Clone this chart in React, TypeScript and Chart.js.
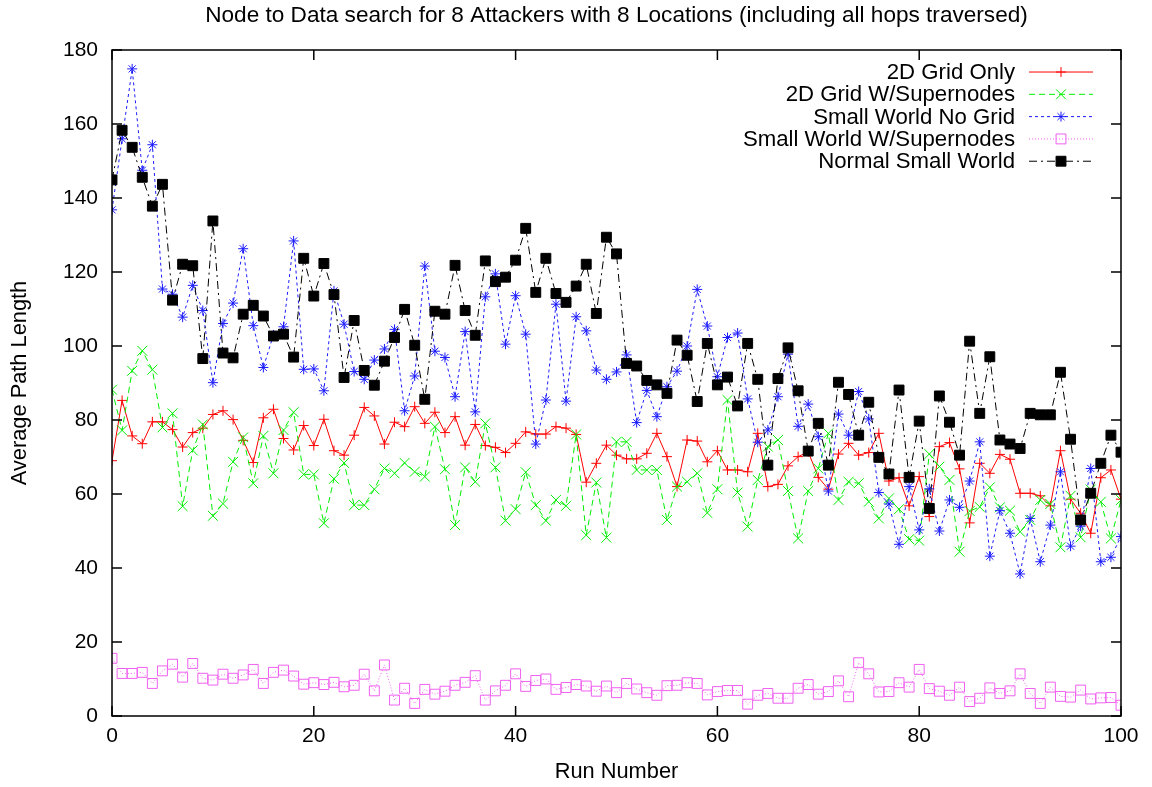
import React, { useEffect, useRef } from "react";
import { Chart, registerables } from "chart.js";

Chart.register(...registerables);

const chartTitle = "Node to Data search for 8 Attackers with 8 Locations (including all hops traversed)";
const xAxisTitle = "Run Number";
const yAxisTitle = "Average Path Length";

const runNumbers: number[] = Array.from({ length: 101 }, (_, i) => i);

const seriesNames = [
  "2D Grid Only",
  "2D Grid W/Supernodes",
  "Small World No Grid",
  "Small World W/Supernodes",
  "Normal Small World",
];

const grid2dOnly = [
  69.0, 85.3, 75.7, 73.6, 79.5, 79.5, 77.4, 72.7, 76.6, 77.8,
  81.5, 82.5, 80.1, 74.5, 68.5, 80.6, 82.9, 75.0, 71.9, 78.5,
  73.1, 80.2, 71.7, 70.5, 75.9, 83.4, 81.1, 73.5, 79.4, 78.2,
  83.6, 79.1, 82.1, 76.6, 80.9, 73.2, 78.8, 73.1, 72.6, 71.2,
  73.7, 76.8, 76.2, 76.2, 78.2, 77.8, 76.1, 63.2, 68.3, 73.2,
  70.5, 69.5, 69.5, 71.0, 76.4, 70.1, 62.0, 74.6, 74.3, 68.7,
  71.7, 66.5, 66.5, 66.0, 76.4, 62.0, 62.6, 67.6, 70.1, 71.4,
  64.5, 61.3, 70.8, 73.7, 70.5, 71.2, 76.4, 63.5, 64.4, 56.8,
  64.7, 53.9, 72.8, 73.9, 66.8, 52.2, 68.3, 65.6, 70.7, 69.4,
  60.2, 60.2, 59.5, 56.8, 71.7, 58.6, 54.8, 49.4, 64.4, 66.5,
  58.6,
];

const grid2dSupernodes = [
  88.2, 77.2, 93.3, 98.7, 93.6, 78.0, 81.8, 56.7, 71.8, 78.8,
  54.1, 57.4, 68.7, 75.3, 62.9, 75.7, 65.6, 77.3, 82.1, 65.3,
  65.3, 52.1, 64.1, 68.4, 57.0, 57.0, 61.3, 66.9, 65.6, 68.4,
  66.0, 64.7, 78.2, 66.7, 51.6, 67.2, 63.3, 79.1, 67.2, 52.8,
  55.9, 65.9, 57.0, 52.8, 58.4, 56.8, 76.1, 48.9, 63.1, 48.2,
  74.1, 74.1, 66.5, 66.5, 66.5, 53.0, 62.0, 63.3, 65.6, 54.9,
  61.3, 85.4, 60.4, 51.2, 63.8, 72.8, 74.6, 60.8, 48.0, 60.8,
  66.9, 76.4, 58.4, 63.3, 62.9, 57.9, 53.4, 58.8, 55.9, 47.8,
  47.4, 70.8, 67.4, 63.8, 44.4, 55.4, 56.5, 61.8, 56.4, 55.5,
  49.8, 53.0, 58.4, 57.3, 45.6, 59.5, 48.3, 61.2, 57.9, 48.0,
  58.4,
];

const smallWorldNoGrid = [
  136.8, 156.0, 174.9, 147.5, 154.4, 115.4, 114.0, 107.8, 116.4, 109.6,
  90.1, 106.1, 111.6, 126.3, 105.5, 94.2, 103.0, 105.2, 128.4, 93.7,
  93.8, 87.9, 114.9, 105.9, 93.1, 91.0, 96.2, 99.2, 104.5, 82.5,
  91.9, 121.6, 98.6, 96.9, 86.3, 103.9, 82.2, 113.3, 119.5, 100.5,
  113.6, 103.2, 73.5, 85.4, 111.3, 85.1, 107.9, 104.1, 93.5, 91.0,
  93.0, 97.6, 79.3, 88.0, 80.9, 89.0, 93.2, 100.0, 115.3, 105.4,
  91.7, 102.3, 103.5, 85.7, 74.0, 77.3, 86.3, 97.8, 78.3, 84.3,
  75.5, 60.8, 81.6, 75.9, 87.7, 80.3, 60.4, 57.3, 46.4, 62.0,
  50.3, 61.4, 50.0, 58.4, 56.4, 63.5, 74.1, 43.2, 55.5, 49.4,
  38.4, 53.4, 41.7, 51.6, 66.0, 45.9, 51.3, 66.9, 41.7, 42.9,
  48.5,
];

const smallWorldSupernodes = [
  15.6, 11.5, 11.5, 11.8, 8.8, 12.2, 14.0, 10.5, 14.2, 10.2,
  9.7, 11.3, 10.2, 11.1, 12.6, 8.8, 11.8, 12.4, 10.8, 8.6,
  9.0, 8.5, 9.1, 7.9, 8.3, 11.3, 6.8, 13.8, 4.3, 7.5,
  3.4, 7.2, 5.9, 6.7, 8.3, 9.1, 10.9, 4.3, 6.8, 8.3,
  11.4, 8.0, 9.6, 10.0, 7.2, 7.7, 8.5, 8.1, 6.7, 8.1,
  6.3, 8.8, 7.3, 6.3, 5.6, 8.2, 8.3, 9.0, 8.8, 5.7,
  6.6, 6.9, 6.9, 3.2, 5.6, 6.1, 4.8, 4.8, 7.5, 8.5,
  5.9, 6.6, 9.5, 5.2, 14.4, 11.4, 6.5, 6.6, 9.0, 7.8,
  12.6, 7.4, 6.7, 5.6, 7.8, 3.9, 4.8, 7.6, 6.1, 6.8,
  11.4, 6.1, 3.4, 7.8, 5.3, 5.1, 7.0, 4.6, 4.9, 5.0,
  2.9,
];

const normalSmallWorld = [
  144.9, 158.3, 153.7, 145.6, 137.8, 143.7, 112.4, 122.1, 121.7, 96.6,
  133.8, 98.1, 96.8, 108.6, 111.0, 108.1, 102.7, 103.2, 97.0, 123.7,
  113.5, 122.3, 113.9, 91.5, 106.9, 93.4, 89.4, 95.9, 102.3, 109.9,
  100.2, 85.6, 109.4, 108.6, 121.8, 109.6, 102.9, 123.0, 117.4, 118.6,
  123.2, 131.8, 114.5, 123.7, 114.2, 111.8, 116.2, 122.1, 108.8, 129.4,
  124.9, 95.3, 94.6, 90.7, 89.5, 87.2, 101.6, 97.5, 85.0, 100.7,
  89.5, 91.6, 83.8, 100.7, 91.0, 67.8, 91.2, 99.5, 87.9, 71.6,
  79.1, 67.8, 90.2, 86.9, 75.9, 84.8, 69.9, 65.4, 88.1, 64.5,
  79.7, 56.1, 86.5, 79.4, 70.5, 101.3, 81.8, 97.1, 74.6, 73.5,
  72.3, 81.8, 81.4, 81.4, 92.9, 74.8, 53.0, 60.2, 68.3, 75.9,
  71.3,
];

const xTickStep = 20;
const yTickStep = 20;

const FONT = "'Liberation Sans', Arial, Helvetica, sans-serif";

type Style = {
  color: string;
  dash: number[];
  pointStyle: string;
  radius: number;
  fill: string;
  order: number;
};

const styles: Style[] = [
  { color: "#ff0000", dash: [], pointStyle: "cross", radius: 5, fill: "transparent", order: 5 },
  { color: "#00ee00", dash: [6, 4], pointStyle: "crossRot", radius: 7, fill: "transparent", order: 4 },
  { color: "#1a1aff", dash: [3, 3], pointStyle: "star", radius: 5, fill: "transparent", order: 3 },
  { color: "#f060f0", dash: [1, 2], pointStyle: "rect", radius: 7, fill: "transparent", order: 2 },
  { color: "#000000", dash: [8, 4, 2, 4], pointStyle: "rect", radius: 7, fill: "#000000", order: 1 },
];

function drawMarker(ctx: CanvasRenderingContext2D, style: Style, x: number, y: number) {
  const r = style.radius;
  ctx.save();
  ctx.setLineDash([]);
  ctx.strokeStyle = style.color;
  ctx.fillStyle = style.fill;
  ctx.lineWidth = 1;
  ctx.beginPath();
  if (style.pointStyle === "cross" || style.pointStyle === "star") {
    ctx.moveTo(x - r, y);
    ctx.lineTo(x + r, y);
    ctx.moveTo(x, y - r);
    ctx.lineTo(x, y + r);
  }
  if (style.pointStyle === "crossRot" || style.pointStyle === "star") {
    const d = r * Math.SQRT1_2;
    ctx.moveTo(x - d, y - d);
    ctx.lineTo(x + d, y + d);
    ctx.moveTo(x - d, y + d);
    ctx.lineTo(x + d, y - d);
  }
  if (style.pointStyle === "rect") {
    const s = r * Math.SQRT1_2;
    ctx.rect(x - s, y - s, 2 * s, 2 * s);
    if (style.fill !== "transparent") ctx.fill();
  }
  ctx.stroke();
  ctx.restore();
}

const framePlugin = {
  id: "gnuplotFrame",
  afterDatasetsDraw(chart: any) {
    const { ctx, chartArea, scales } = chart;
    const { left, right, top, bottom } = chartArea;
    const tickLen = 10;
    ctx.save();
    ctx.strokeStyle = "#000";
    ctx.lineWidth = 1.5;
    ctx.setLineDash([]);
    ctx.beginPath();
    ctx.rect(left, top, right - left, bottom - top);
    ctx.stroke();
    ctx.beginPath();
    for (const t of scales.x.ticks) {
      const px = scales.x.getPixelForValue(t.value);
      ctx.moveTo(px, bottom);
      ctx.lineTo(px, bottom - tickLen);
      ctx.moveTo(px, top);
      ctx.lineTo(px, top + tickLen);
    }
    for (const t of scales.y.ticks) {
      const py = scales.y.getPixelForValue(t.value);
      ctx.moveTo(left, py);
      ctx.lineTo(left + tickLen, py);
      ctx.moveTo(right, py);
      ctx.lineTo(right - tickLen, py);
    }
    ctx.stroke();

    // legend (gnuplot style: text right-aligned, then sample)
    const textRight = right - 106;
    const lineL = right - 92;
    const lineR = right - 28;
    const rowTop = top + 22;
    const rowStep = 22.3;
    ctx.font = `22.2px ${FONT}`;
    ctx.textAlign = "right";
    ctx.textBaseline = "middle";
    chart.data.datasets.forEach((ds: any, i: number) => {
      const y = rowTop + i * rowStep;
      const st = styles[i];
      ctx.fillStyle = "#000";
      ctx.fillText(ds.label, textRight, y + 1);
      ctx.save();
      ctx.strokeStyle = st.color;
      ctx.lineWidth = 1;
      ctx.setLineDash(st.dash);
      ctx.beginPath();
      ctx.moveTo(lineL, y);
      ctx.lineTo(lineR, y);
      ctx.stroke();
      ctx.restore();
      drawMarker(ctx, st, (lineL + lineR) / 2, y);
    });
    ctx.restore();
  },
};

export default function App() {
  const canvasRef = useRef<HTMLCanvasElement | null>(null);

  useEffect(() => {
    if (!canvasRef.current) return;
    const allSeries = [grid2dOnly, grid2dSupernodes, smallWorldNoGrid, smallWorldSupernodes, normalSmallWorld];
    const datasets = allSeries.map((vals, i) => {
      const st = styles[i];
      return {
        label: seriesNames[i],
        data: vals.map((v, j) => ({ x: runNumbers[j], y: v })),
        borderColor: st.color,
        backgroundColor: st.fill,
        borderWidth: 1,
        borderDash: st.dash,
        pointStyle: st.pointStyle,
        pointRadius: st.radius,
        pointBorderWidth: 1,
        pointBorderColor: st.color,
        pointBackgroundColor: st.fill,
        tension: 0,
        fill: false,
        order: st.order,
      };
    });

    const tickFont = { family: FONT, size: 21 };
    const axisTitleFont = { family: FONT, size: 21.8 };
    const chart = new Chart(canvasRef.current, {
      type: "line",
      data: { datasets } as any,
      options: {
        animation: false,
        responsive: true,
        maintainAspectRatio: false,
        layout: { padding: { top: 0, right: 31, bottom: 0, left: 0 } },
        plugins: {
          legend: { display: false },
          tooltip: { enabled: false },
          title: {
            display: true,
            text: chartTitle,
            color: "#000",
            fullSize: false,
            font: { family: FONT, size: 22.6, weight: "normal" },
            padding: { top: 2.5, bottom: 20.4 },
          },
        },
        scales: {
          x: {
            type: "linear",
            min: 0,
            max: 100,
            ticks: { stepSize: xTickStep, font: tickFont, color: "#000", padding: 8, maxRotation: 0 },
            grid: { display: false, drawTicks: false },
            border: { display: false },
            title: { display: true, text: xAxisTitle, color: "#000", font: axisTitleFont, padding: { top: 0, bottom: 1.5 } },
            afterFit(scale: any) {
              scale.height = 71;
            },
          },
          y: {
            type: "linear",
            min: 0,
            max: 180,
            ticks: { stepSize: yTickStep, font: tickFont, color: "#000", padding: 14 },
            grid: { display: false, drawTicks: false },
            border: { display: false },
            title: { display: true, text: yAxisTitle, color: "#000", font: axisTitleFont, padding: { top: 7, bottom: 0 } },
            afterFit(scale: any) {
              scale.width = 112;
            },
          },
        },
      } as any,
      plugins: [framePlugin],
    });
    return () => chart.destroy();
  }, []);

  return (
    <div style={{ position: "fixed", left: 0, top: 0, width: 1152, height: 787, background: "#fff" }}>
      <canvas ref={canvasRef} />
    </div>
  );
}
